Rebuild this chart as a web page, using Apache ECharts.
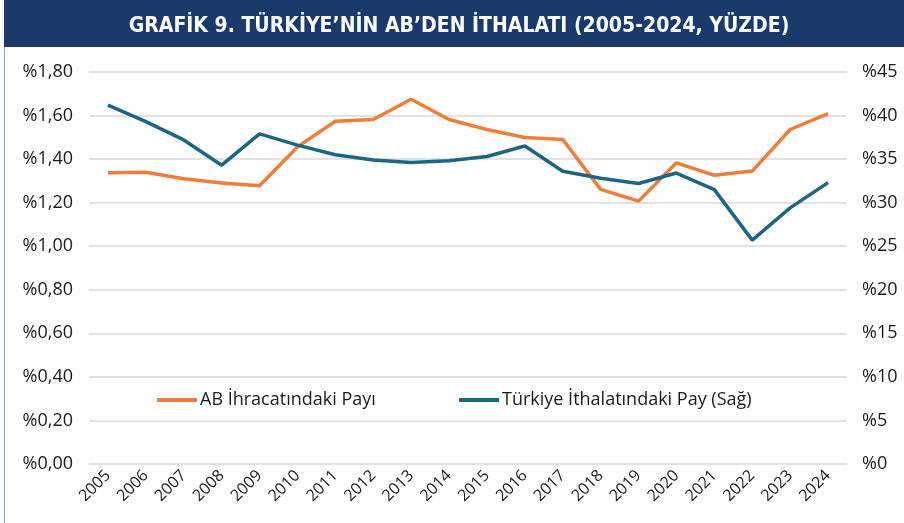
<!DOCTYPE html>
<html>
<head>
<meta charset="utf-8">
<script src="https://cdn.jsdelivr.net/npm/echarts@6/dist/echarts.min.js"></script>
<style>
  html, body { margin: 0; padding: 0; background: #fff; }
  #chart { width: 904px; height: 523px; }
</style>
</head>
<body>
<div id="chart"></div>
<script>
// yillar
var years = ['2005','2006','2007','2008','2009','2010','2011','2012','2013','2014',
             '2015','2016','2017','2018','2019','2020','2021','2022','2023','2024'];
// AB ihracatindaki pay (sol eksen, %)
var abIhracat = [1.337, 1.340, 1.310, 1.290, 1.278, 1.456, 1.574, 1.582, 1.675, 1.582,
                 1.536, 1.499, 1.490, 1.261, 1.207, 1.383, 1.326, 1.345, 1.536, 1.609];
// Turkiye ithalatindaki pay (sag eksen, %)
var trIthalat = [41.2, 39.3, 37.2, 34.3, 37.9, 36.6, 35.5, 34.9, 34.6, 34.8,
                 35.3, 36.5, 33.6, 32.8, 32.2, 33.4, 31.5, 25.7, 29.4, 32.3];
var titleText = 'GRAFİK 9. TÜRKİYE’NİN AB’DEN İTHALATI (2005-2024, YÜZDE)';
var seriesNames = ['AB İhracatındaki Payı', 'Türkiye İthalatındaki Pay (Sağ)'];

var orange = '#ef7d3b';
var teal = '#1c6585';
var font = '"Open Sans", "Noto Sans", sans-serif';

var myChart = echarts.init(document.getElementById('chart'));
myChart.setOption({
  animation: false,
  backgroundColor: '#fff',
  graphic: [
    { type: 'rect', shape: { x: 4, y: 0, width: 900, height: 47 }, style: { fill: '#1a3a6c' } },
    { type: 'rect', shape: { x: 4, y: 47, width: 1, height: 476 }, style: { fill: '#8ea4c8' } }
  ],
  title: {
    text: titleText,
    left: 454,
    top: 11,
    textAlign: 'center',
    textStyle: {
      color: '#fff',
      fontFamily: '"DejaVu Sans Condensed", "Liberation Sans Narrow", sans-serif',
      fontWeight: 'bold',
      fontSize: 21
    }
  },
  legend: [
    {
      data: [seriesNames[0]],
      left: 157, top: 391, padding: 0,
      itemWidth: 40, itemHeight: 4, itemGap: 0,
      icon: 'rect',
      textStyle: { fontFamily: font, fontSize: 18, color: '#1a1a1a', padding: [0, 0, 0, -2] }
    },
    {
      data: [seriesNames[1]],
      left: 459, top: 391, padding: 0,
      itemWidth: 40, itemHeight: 4, itemGap: 0,
      icon: 'rect',
      textStyle: { fontFamily: font, fontSize: 18, color: '#1a1a1a', padding: [0, 0, 0, -2] }
    }
  ],
  grid: { left: 89, right: 57, top: 72, bottom: 59 },
  xAxis: {
    type: 'category',
    data: years,
    boundaryGap: true,
    axisLine: { show: false },
    axisTick: { show: false },
    axisLabel: {
      rotate: 45,
      interval: 0,
      margin: 9,
      fontFamily: font,
      fontSize: 16,
      color: '#1a1a1a'
    }
  },
  yAxis: [
    {
      type: 'value',
      min: 0, max: 1.8, interval: 0.2,
      axisLine: { show: false },
      axisTick: { show: false },
      splitLine: { lineStyle: { color: '#d9d9d9', width: 1.5 } },
      axisLabel: {
        margin: 16,
        fontFamily: font,
        fontSize: 18,
        color: '#1a1a1a',
        formatter: function (v) { return '%' + v.toFixed(2).replace('.', ','); }
      }
    },
    {
      type: 'value',
      min: 0, max: 45, interval: 5,
      axisLine: { show: false },
      axisTick: { show: false },
      splitLine: { show: false },
      axisLabel: {
        margin: 15,
        fontFamily: font,
        fontSize: 18,
        color: '#1a1a1a',
        formatter: function (v) { return '%' + v; }
      }
    }
  ],
  series: [
    {
      name: seriesNames[0],
      type: 'line',
      data: abIhracat,
      yAxisIndex: 0,
      symbol: 'none',
      color: orange,
      lineStyle: { color: orange, width: 3.5 }
    },
    {
      name: seriesNames[1],
      type: 'line',
      data: trIthalat,
      yAxisIndex: 1,
      symbol: 'none',
      color: teal,
      lineStyle: { color: teal, width: 3.5 }
    }
  ]
});
</script>
</body>
</html>
